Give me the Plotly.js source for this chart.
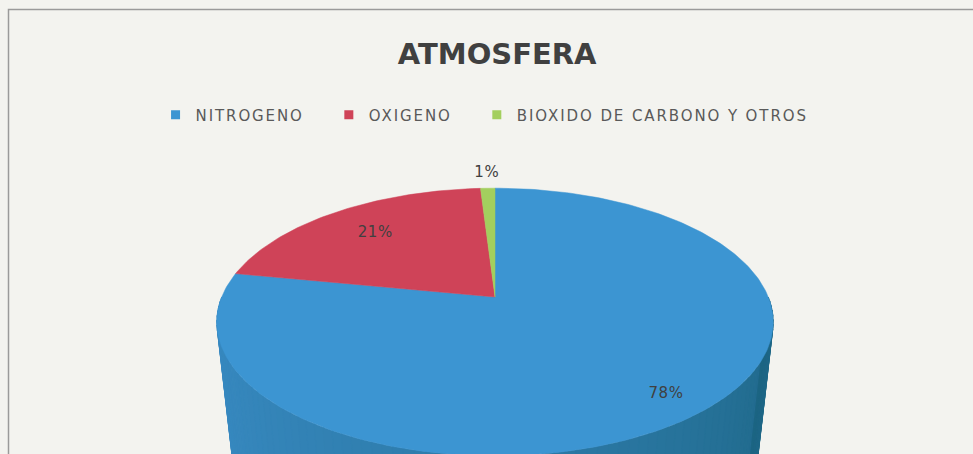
<!DOCTYPE html>
<html>
<head>
<meta charset="utf-8">
<script src="https://cdn.plot.ly/plotly-3.0.1.min.js"></script>
<style>
  html, body { margin: 0; padding: 0; background: #f3f3ef; }
  #chart { width: 973px; height: 454px; }
  .legendtext { letter-spacing: 1.9px; }
  .textpoint text { letter-spacing: 0.6px; }
</style>
</head>
<body>
<div id="chart"></div>
<script>
// ---- data ----
const categories = ['NITROGENO', 'OXIGENO', 'BIOXIDO DE CARBONO Y OTROS'];
const percentages = [78, 21, 1];
const valueLabels = ['78%', '21%', '1%'];
const chartTitle = 'ATMOSFERA';

// ---- style ----
const topColors = ['#3c95d2', '#cf4358', '#a3cf5e'];
const sideLight = [56, 138, 194];
const sideDark = [28, 100, 130];
const labelRadius = [0.86, 0.73, 1.17];
const W = 973, H = 454;
const CAM = { cx: 495, cy: 297, F: 1290, D: 4.72, tilt: 28.2 * Math.PI / 180, h: 0.8 };

function project(X, Y, Z) {
  const s = Math.sin(CAM.tilt), c = Math.cos(CAM.tilt);
  const w = CAM.D + Y * c - Z * s;
  return [CAM.cx + CAM.F * X / w, CAM.cy - CAM.F * (Y * s + Z * c) / w];
}
function rim(deg, r, Z) {
  const a = deg * Math.PI / 180;
  return project(r * Math.cos(a), r * Math.sin(a), Z);
}

const traces = [];

// side of the cylinder (front half, visible), shaded
const step = 2;
for (let th = 180; th < 360; th += step) {
  const t2 = Math.min(th + step + 0.3, 360);
  const pts = [rim(th, 1, 0), rim(t2, 1, 0), rim(t2, 1, -CAM.h), rim(th, 1, -CAM.h)];
  const f = Math.pow((th - 180) / 180, 1.3);
  const col = 'rgb(' + sideLight.map((v, k) => Math.round(v + (sideDark[k] - v) * f)).join(',') + ')';
  traces.push({
    type: 'scatter', mode: 'lines', fill: 'toself', fillcolor: col,
    x: pts.map(p => p[0]).concat([pts[0][0]]),
    y: pts.map(p => p[1]).concat([pts[0][1]]),
    line: { color: col, width: 0.8 }, hoverinfo: 'skip', showlegend: false
  });
}

// top face slices
const total = percentages.reduce((a, b) => a + b, 0);
let cum = 0;
const labX = [], labY = [];
percentages.forEach((v, i) => {
  const a0 = 90 - cum / total * 360;
  const a1 = a0 - v / total * 360;
  cum += v;
  const xs = [], ys = [];
  const c0 = project(0, 0, 0);
  xs.push(c0[0]); ys.push(c0[1]);
  const n = Math.max(2, Math.ceil((a0 - a1) / 1));
  for (let k = 0; k <= n; k++) {
    const p = rim(a0 + (a1 - a0) * k / n, 1, 0);
    xs.push(p[0]); ys.push(p[1]);
  }
  xs.push(c0[0]); ys.push(c0[1]);
  traces.push({
    type: 'scatter', mode: 'lines', fill: 'toself', fillcolor: topColors[i],
    x: xs, y: ys, line: { color: topColors[i], width: 0.5 },
    name: categories[i], hoverinfo: 'name', showlegend: false
  });
  const lp = rim((a0 + a1) / 2, labelRadius[i], 0);
  labX.push(lp[0]); labY.push(lp[1]);
});

// value labels
traces.push({
  type: 'scatter', mode: 'text', x: labX, y: labY, text: valueLabels,
  textposition: 'middle center', cliponaxis: false,
  textfont: { family: 'DejaVu Sans, sans-serif', size: 15, color: '#404040' },
  hoverinfo: 'skip', showlegend: false
});

// legend entries
categories.forEach((c, i) => {
  traces.push({
    type: 'scatter', mode: 'markers', x: [null], y: [null],
    name: c + (i < categories.length - 1 ? '\u00a0\u00a0\u00a0' : ''),
    marker: { symbol: 'square', size: 9, color: topColors[i] }
  });
});

const layout = {
  width: W, height: H,
  margin: { l: 0, r: 0, t: 0, b: 0, pad: 0 },
  paper_bgcolor: '#f3f3ef', plot_bgcolor: '#f3f3ef',
  xaxis: { range: [0, W], visible: false, fixedrange: true },
  yaxis: { range: [H, 0], visible: false, fixedrange: true },
  showlegend: true,
  legend: {
    orientation: 'h', x: 0.498, xanchor: 'center', y: 1 - 115 / H, yanchor: 'middle',
    font: { family: 'DejaVu Sans, sans-serif', size: 15, color: '#595959' },
    bgcolor: 'rgba(0,0,0,0)', itemclick: false, itemdoubleclick: false
  },
  title: {
    text: chartTitle, x: 0.511, xanchor: 'center', y: 1 - 54 / H, yanchor: 'middle',
    font: { family: 'DejaVu Sans, sans-serif', size: 29, color: '#404040', weight: 'bold' }
  },
  shapes: [{
    type: 'rect', xref: 'x', yref: 'y', x0: 8.5, x1: 990, y0: 9.5, y1: 480,
    line: { color: '#9a9a9a', width: 1.5 }, fillcolor: 'rgba(0,0,0,0)', layer: 'below'
  }]
};

Plotly.newPlot('chart', traces, layout, { displayModeBar: false, staticPlot: true });
</script>
</body>
</html>
